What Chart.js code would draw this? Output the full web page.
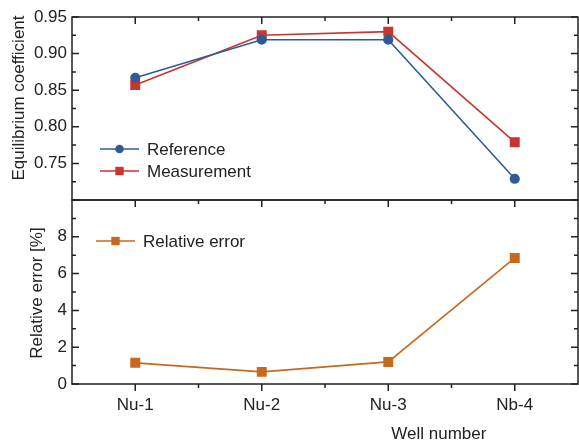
<!DOCTYPE html>
<html lang="en">
<head>
  <meta charset="UTF-8" />
  <title>Equilibrium coefficient by well</title>
  <script src="https://cdn.jsdelivr.net/npm/chart.js"></script>
  <style>
    html, body { margin: 0; padding: 0; background: #fff; }
    body { width: 579px; height: 441px; position: relative; overflow: hidden; }
    .panel { position: absolute; left: 0; width: 579px; }
    #topPanel { top: 0; height: 201px; }
    #bottomPanel { top: 199px; height: 242px; }
  </style>
</head>
<body>
  <div class="panel" id="topPanel"><canvas id="coefChart"></canvas></div>
  <div class="panel" id="bottomPanel"><canvas id="errorChart"></canvas></div>

  <script>
    const wells = ["Nu-1", "Nu-2", "Nu-3", "Nb-4"];
    const referenceCoef = [0.867, 0.919, 0.919, 0.729];
    const measuredCoef = [0.857, 0.925, 0.930, 0.779];
    const relativeError = [1.15, 0.66, 1.2, 6.85];

    const BLUE = "#2f5b95";
    const RED = "#c9352f";
    const ORANGE = "#c8681e";
    const INK = "#222";
    const FONT = "'Liberation Sans', Arial, sans-serif";

    Chart.defaults.font.family = FONT;
    Chart.defaults.font.size = 17;
    Chart.defaults.color = INK;

    // the label overhang padding would push the plot area around, drop it
    function noOverhang(s) {
      s.paddingTop = 0; s.paddingBottom = 0;
      s.paddingLeft = 0; s.paddingRight = 0;
    }

    // box around the plot area with inward ticks (bottom ticks optional, outward)
    // plus the axis titles, which sit a bit off-centre in the original
    const framePlugin = {
      id: "frame",
      afterDraw(chart, args, opts) {
        const { ctx, chartArea: a, scales } = chart;
        const x = scales.x, y = scales.y;
        ctx.save();
        ctx.strokeStyle = INK;
        ctx.lineWidth = 1.5;
        ctx.strokeRect(a.left, a.top, a.right - a.left, a.bottom - a.top);

        const major = y.ticks.map(t => t.value);
        const minor = major.slice(1).map((v, i) => (v + major[i]) / 2);
        const yMarks = major.map(v => [v, 7]).concat(minor.map(v => [v, 4]));
        const xMarks = wells.map((w, i) => [i, 7])
          .concat(wells.slice(1).map((w, i) => [i + 0.5, 4]));

        ctx.beginPath();
        yMarks.forEach(([v, len]) => {
          const py = y.getPixelForValue(v);
          ctx.moveTo(a.left, py); ctx.lineTo(a.left + len, py);
          ctx.moveTo(a.right, py); ctx.lineTo(a.right - len, py);
        });
        xMarks.forEach(([v, len]) => {
          const px = x.getPixelForValue(v);
          ctx.moveTo(px, a.top); ctx.lineTo(px, a.top + len);
          if (opts.bottomTicks) { ctx.moveTo(px, a.bottom); ctx.lineTo(px, a.bottom + len); }
        });
        ctx.stroke();

        ctx.fillStyle = INK;
        ctx.font = "17px " + FONT;
        ctx.textAlign = "center";
        ctx.textBaseline = "middle";
        if (opts.xTitle) {
          ctx.fillText(opts.xTitle, a.left + (a.right - a.left) * 0.725, a.bottom + 50);
        }
        if (opts.yTitle) {
          ctx.save();
          ctx.translate(opts.yTitle.x, a.top + opts.yTitle.dy);
          ctx.rotate(-Math.PI / 2);
          ctx.fillText(opts.yTitle.text, 0, 0);
          ctx.restore();
        }
        ctx.restore();
      }
    };

    // legend drawn inside the plot area
    const insideLegend = {
      id: "insideLegend",
      afterDraw(chart, args, opts) {
        const { ctx, chartArea: a } = chart;
        ctx.save();
        ctx.font = "17px " + FONT;
        ctx.textBaseline = "middle";
        chart.data.datasets.forEach((ds, i) => {
          const yy = a.top + opts.y + i * opts.gap;
          const x0 = a.left + opts.x;
          ctx.strokeStyle = ds.borderColor;
          ctx.lineWidth = 1.6;
          ctx.beginPath();
          ctx.moveTo(x0, yy); ctx.lineTo(x0 + 39, yy);
          ctx.stroke();
          ctx.fillStyle = ds.pointBackgroundColor;
          if (ds.pointStyle === "circle") {
            ctx.beginPath();
            ctx.arc(x0 + 19.5, yy, 4.3, 0, Math.PI * 2);
            ctx.fill();
          } else {
            ctx.fillRect(x0 + 19.5 - 4.2, yy - 4.2, 8.4, 8.4);
          }
          ctx.fillStyle = INK;
          ctx.fillText(ds.label, x0 + 47, yy + 1);
        });
        ctx.restore();
      }
    };

    function series(label, data, color, style) {
      return {
        label,
        data,
        borderColor: color,
        backgroundColor: color,
        pointBackgroundColor: color,
        pointBorderColor: color,
        pointStyle: style,
        pointRadius: style === "circle" ? 4.3 : 5.9,
        borderWidth: 1.6,
        tension: 0
      };
    }

    const xScale = (extra) => Object.assign({
      type: "category",
      offset: true,
      grid: { display: false, drawTicks: false },
      border: { display: false }
    }, extra);

    new Chart(document.getElementById("coefChart"), {
      type: "line",
      data: {
        labels: wells,
        datasets: [
          series("Reference", referenceCoef, BLUE, "circle"),
          series("Measurement", measuredCoef, RED, "rect")
        ]
      },
      options: {
        responsive: true,
        maintainAspectRatio: false,
        animation: false,
        layout: { autoPadding: false, padding: { top: 17, right: 1, bottom: 1, left: 0 } },
        plugins: {
          legend: { display: false },
          tooltip: { enabled: false },
          frame: { bottomTicks: false, yTitle: { text: "Equilibrium coefficient", x: 19, dy: 81 } },
          insideLegend: { x: 28, y: 132, gap: 22 }
        },
        scales: {
          x: xScale({ display: false, afterFit: noOverhang }),
          y: {
            min: 0.70,
            max: 0.95,
            ticks: {
              stepSize: 0.05,
              padding: 5,
              callback: v => (v < 0.72 ? "" : v.toFixed(2))
            },
            grid: { display: false, drawTicks: false },
            border: { display: false },
            afterFit: s => { s.width = 72; noOverhang(s); }
          }
        }
      },
      plugins: [framePlugin, insideLegend]
    });

    new Chart(document.getElementById("errorChart"), {
      type: "line",
      data: {
        labels: wells,
        datasets: [series("Relative error", relativeError, ORANGE, "rect")]
      },
      options: {
        responsive: true,
        maintainAspectRatio: false,
        animation: false,
        layout: { autoPadding: false, padding: { top: 1, right: 1, bottom: 0, left: 0 } },
        plugins: {
          legend: { display: false },
          tooltip: { enabled: false },
          frame: {
            bottomTicks: true,
            xTitle: "Well number",
            yTitle: { text: "Relative error [%]", x: 37, dy: 93 }
          },
          insideLegend: { x: 24, y: 41, gap: 22 }
        },
        scales: {
          x: xScale({
            ticks: { padding: 11 },
            afterFit: s => { s.height = 57; noOverhang(s); }
          }),
          y: {
            min: 0,
            max: 10,
            ticks: {
              stepSize: 2,
              padding: 5,
              callback: v => (v >= 10 ? "" : v)
            },
            grid: { display: false, drawTicks: false },
            border: { display: false },
            afterFit: s => { s.width = 72; noOverhang(s); }
          }
        }
      },
      plugins: [framePlugin, insideLegend]
    });
  </script>
</body>
</html>
